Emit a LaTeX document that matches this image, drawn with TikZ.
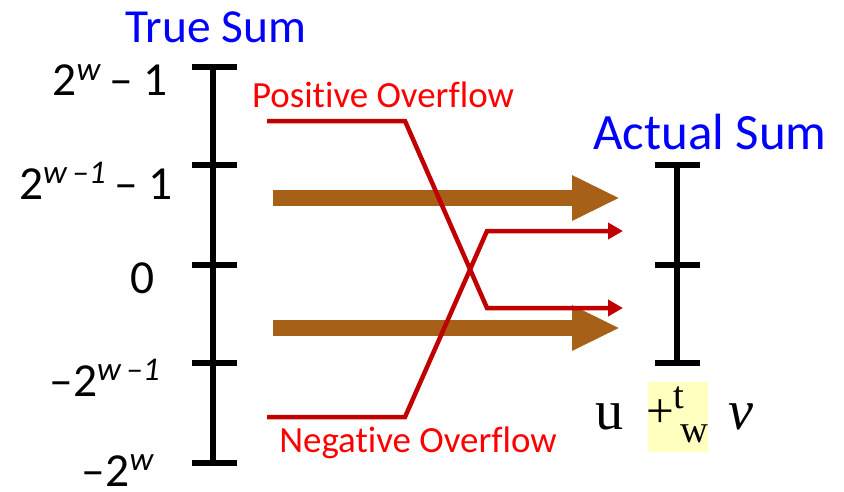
\documentclass[tikz,border=0pt]{standalone}
\usepackage{fontspec}
\setmainfont{Carlito}[Ligatures=NoCommon]
\newfontfamily\timesfont{Liberation Serif}
\usetikzlibrary{arrows.meta,positioning}
\definecolor{sumblue}{RGB}{0,0,255}
\definecolor{ovred}{RGB}{192,0,0}
\definecolor{ovtext}{RGB}{255,0,0}
\definecolor{flowbrown}{RGB}{166,96,24}
\definecolor{hlyellow}{RGB}{255,255,192}

\begin{document}
\begin{tikzpicture}[
  x=0.02cm, y=-0.02cm,
  axis/.style={line width=0.12cm},
  tick/.style={line width=0.11cm},
  title/.style={text=sumblue, font=\fontsize{27}{30}\selectfont},
  val/.style={font=\fontsize{27}{30}\selectfont, inner sep=0pt},
  ovlabel/.style={text=ovtext, font=\fontsize{21}{24}\selectfont},
  opfont/.style={font=\timesfont\fontsize{#1}{#1}\selectfont, inner sep=0pt},
  opital/.style={font=\timesfont\itshape\fontsize{#1}{#1}\selectfont, inner sep=0pt},
  wide/.style={draw=flowbrown, line width=0.32cm, -{Triangle[length=0.96cm,width=0.84cm]}},
  overflow/.style={draw=ovred, line width=0.09cm, line join=miter, -{Triangle[length=0.3cm,width=0.32cm]}},
]
  \useasboundingbox (0,0) rectangle (844,491);

  % True sum axis
  \coordinate (tmax) at (213,67);
  \coordinate (thalf) at (213,165);
  \coordinate (tzero) at (213,265);
  \coordinate (tnhalf) at (213,363);
  \coordinate (tmin) at (213,463);
  \draw[axis] (tmax) -- (tmin);
  \foreach \c in {tmax,thalf,tzero,tnhalf,tmin}
    \draw[tick] ([xshift=-0.42cm]\c) -- ([xshift=0.48cm]\c);

  \node[title] (truesum) at (216,27) {True Sum};
  \node[val] (lmax) at (110,80) {2\textsuperscript{\itshape w}\,– 1};
  \node[val] (lhalf) at (96,181) {2\textsuperscript{\itshape w\,–1}\,– 1};
  \node[val] (lzero) at (143,278) {0};
  \node[val] (lnhalf) at (105,378) {–2\textsuperscript{\itshape w\,–1}};
  \node[val, anchor=base] (lmin) at (118,486) {–2\textsuperscript{\itshape w}};

  % Actual sum axis
  \coordinate (amax) at (677,165);
  \coordinate (azero) at (677,265);
  \coordinate (amin) at (677,363);
  \draw[axis] (amax) -- (amin);
  \foreach \c in {amax,azero,amin}
    \draw[tick] ([xshift=-0.44cm]\c) -- ([xshift=0.46cm]\c);
  \node[title, font=\fontsize{29}{32}\selectfont] (actualsum) at (710,132) {Actual Sum};

  % Normal flows
  \coordinate (ps) at (273,198);
  \coordinate (pe) at (620,198);
  \coordinate (ns) at (273,328);
  \coordinate (ne) at (620,328);
  \draw[wide] (ps) -- (pe);
  \draw[wide] (ns) -- (ne);

  % Overflow flows
  \node[ovlabel] (posov) at (383,95) {Positive Overflow};
  \node[ovlabel] (negov) at (418,443) {Negative Overflow};
  \coordinate (pos0) at (267,121);
  \coordinate (pos1) at (405,121);
  \coordinate (pos2) at (487,308);
  \coordinate (pos3) at (623,308);
  \coordinate (neg0) at (267,417);
  \coordinate (neg1) at (405,417);
  \coordinate (neg2) at (487,231);
  \coordinate (neg3) at (623,231);
  \draw[overflow] (pos0) -- (pos1) -- (pos2) -- (pos3);
  \draw[overflow] (neg0) -- (neg1) -- (neg2) -- (neg3);

  % Operator label
  \node[fill=hlyellow, minimum width=1.2cm, minimum height=1.4cm, inner sep=0pt] (op) at (678,417) {};
  \node[opfont=28] (plus) at (660,414) {+};
  \node[opfont=22] (tsup) at (679,398) {t};
  \node[opfont=22] (wsub) at (694,434) {w};
  \node[opfont=32] (u) at (610,416.5) {u};
  \node[opital=32] (v) at (741,416.5) {v};
\end{tikzpicture}
\end{document}
